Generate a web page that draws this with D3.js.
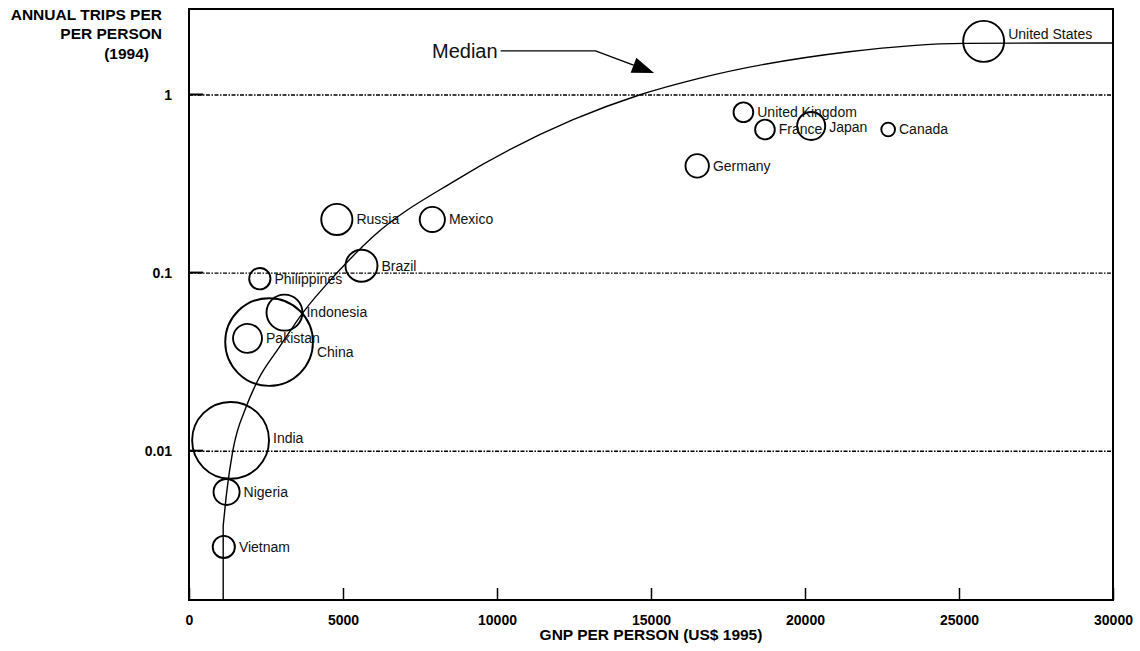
<!DOCTYPE html>
<html>
<head>
<meta charset="utf-8">
<script src="https://cdn.jsdelivr.net/npm/d3@7/dist/d3.min.js"></script>
<style>
  html, body { margin: 0; padding: 0; background: #fff; }
  svg { display: block; font-family: "Liberation Sans", Arial, Helvetica, sans-serif; }
</style>
</head>
<body>
<svg id="chart" width="1140" height="651"></svg>
<script>
// Countries: GNP per person (US$ 1995), annual trips per person (1994), population (millions)
const countries  = ["United States", "Canada", "Japan", "France", "United Kingdom", "Germany",
                    "Mexico", "Russia", "Brazil", "Philippines", "Indonesia", "China",
                    "Pakistan", "India", "Nigeria", "Vietnam"];
const gnp        = [25800, 22700, 20200, 18700, 18000, 16500, 7900, 4800, 5600, 2300, 3100, 2600,
                    1900, 1350, 1220, 1130];
const trips      = [2.0, 0.64, 0.67, 0.64, 0.8, 0.4, 0.2, 0.2, 0.11, 0.093, 0.06, 0.041,
                    0.043, 0.0115, 0.0059, 0.0029];
const population = [260, 29, 122, 60, 60, 85, 98, 150, 158, 70, 200, 1190, 130, 914, 105, 76];

// Median curve: vertical stub at the low-income end, then the smooth rise
const medianStubGnp   = [1110, 1110];
const medianStubTrips = [0.00146, 0.0038];
const medianGnp   = [1110, 1230, 1420, 1860, 2240, 2940, 3700, 4800, 5970, 8670,
                     12450, 14620, 16560, 21430, 25160, 30000];
const medianTrips = [0.0038, 0.0060, 0.0100, 0.0178, 0.0251, 0.0385, 0.060, 0.100, 0.160, 0.333,
                     0.724, 1.0, 1.24, 1.75, 1.95, 1.96];

// Axis ticks
const xTicks = [0, 5000, 10000, 15000, 20000, 25000, 30000];
const yTicks = [0.01, 0.1, 1];
const yTickLabels = ["0.01", "0.1", "1"];

// Annotation for the median curve (data coordinates)
const medianNoteText  = "Median";
const medianNoteGnp   = [10020, 13200, 15100];
const medianNoteTrips = [1.77, 1.77, 1.33];

// Small vertical nudges for labels that would collide with other marks
const labelNudge = { "China": 10, "United States": -7, "India": -2, "Japan": 1 };

const svg = d3.select("#chart");
const margin = { left: 189, top: 9, right: 27, bottom: 51 };
const W = 1140 - margin.left - margin.right;
const H = 651 - margin.top - margin.bottom;

const g = svg.append("g").attr("transform", `translate(${margin.left},${margin.top})`);

const x = d3.scaleLinear().domain([0, 30000]).range([0, W]);
const y = d3.scaleLog().domain([0.00146, 3.04]).range([H, 0]);
const r = d3.scaleSqrt().domain([0, 260]).range([0, 20.5]);

// Dash-dot gridlines at each decade
g.append("g").selectAll("line").data(yTicks).join("line")
  .attr("x1", 0).attr("x2", W)
  .attr("y1", d => y(d)).attr("y2", d => y(d))
  .attr("stroke", "#000").attr("stroke-width", 1.4)
  .attr("stroke-dasharray", "4,1.5,1.5,1.5");

// X axis with inward ticks
const xAxis = g.append("g").attr("transform", `translate(0,${H})`)
  .call(d3.axisBottom(x).tickValues(xTicks).tickSize(-12).tickSizeOuter(0).tickPadding(15)
        .tickFormat(d3.format("d")));
xAxis.select(".domain").remove();
xAxis.selectAll(".tick line").attr("stroke", "#000").attr("stroke-width", 1.5);
xAxis.selectAll(".tick text").attr("font-size", 14).attr("font-weight", "bold")
  .attr("fill", "#000").attr("font-family", "Liberation Sans, Arial, sans-serif");

// Y axis with short inward ticks
const yAxis = g.append("g")
  .call(d3.axisLeft(y).tickValues(yTicks).tickSize(-14).tickSizeOuter(0).tickPadding(17)
        .tickFormat((d, i) => yTickLabels[i]));
yAxis.select(".domain").remove();
yAxis.selectAll(".tick line").attr("stroke", "#000").attr("stroke-width", 2)
  .attr("transform", "translate(0,-1)");
yAxis.selectAll(".tick text").attr("font-size", 14).attr("font-weight", "bold")
  .attr("fill", "#000").attr("font-family", "Liberation Sans, Arial, sans-serif");

// Plot frame
g.append("rect").attr("x", 0).attr("y", 0).attr("width", W).attr("height", H)
  .attr("fill", "none").attr("stroke", "#000").attr("stroke-width", 2);

// Median curve
const stubPts = medianStubGnp.map((v, i) => [v, medianStubTrips[i]]);
const medianPts = medianGnp.map((v, i) => [v, medianTrips[i]]);
g.append("path")
  .attr("d", d3.line().x(d => x(d[0])).y(d => y(d[1]))(stubPts))
  .attr("fill", "none").attr("stroke", "#000").attr("stroke-width", 1.4);
g.append("path")
  .attr("d", d3.line().x(d => x(d[0])).y(d => y(d[1])).curve(d3.curveMonotoneX)(medianPts))
  .attr("fill", "none").attr("stroke", "#000").attr("stroke-width", 1.4);

// Country bubbles
const data = countries.map((c, i) => ({ name: c, gnp: gnp[i], trips: trips[i], pop: population[i] }));
g.append("g").selectAll("circle").data(data).join("circle")
  .attr("cx", d => x(d.gnp)).attr("cy", d => y(d.trips)).attr("r", d => r(d.pop))
  .attr("fill", "none").attr("stroke", "#000").attr("stroke-width", 1.9);

g.append("g").selectAll("text").data(data).join("text")
  .attr("x", d => x(d.gnp) + r(d.pop) + 4)
  .attr("y", d => y(d.trips) + (labelNudge[d.name] || 0))
  .attr("dy", "0.35em")
  .attr("font-size", 14).attr("fill", "#111")
  .text(d => d.name);

// Median annotation: label, leader line and arrowhead
const notePts = medianNoteGnp.map((v, i) => [x(v), y(medianNoteTrips[i])]);
g.append("text")
  .attr("x", notePts[0][0]).attr("y", notePts[0][1]).attr("dy", "0.35em")
  .attr("text-anchor", "end").attr("font-size", 20).attr("fill", "#111")
  .text(medianNoteText);
const tip = notePts[2], elbow = notePts[1];
const ang = Math.atan2(tip[1] - elbow[1], tip[0] - elbow[0]);
const headLen = 22, headHalf = 8;
const base = [tip[0] - headLen * Math.cos(ang), tip[1] - headLen * Math.sin(ang)];
g.append("polyline")
  .attr("points", [[notePts[0][0] + 3, notePts[0][1]], elbow, base].map(p => p.join(",")).join(" "))
  .attr("fill", "none").attr("stroke", "#000").attr("stroke-width", 1.4);
g.append("polygon")
  .attr("points", [
    tip,
    [base[0] + headHalf * Math.sin(ang), base[1] - headHalf * Math.cos(ang)],
    [base[0] - headHalf * Math.sin(ang), base[1] + headHalf * Math.cos(ang)]
  ].map(p => p.join(",")).join(" "))
  .attr("fill", "#000");

// Axis titles
svg.append("text").attr("x", 651).attr("y", 640).attr("text-anchor", "middle")
  .attr("font-size", 15.5).attr("font-weight", "bold").attr("fill", "#000")
  .text("GNP PER PERSON (US$ 1995)");
const yTitle = svg.append("text").attr("text-anchor", "end")
  .attr("font-size", 15.5).attr("font-weight", "bold").attr("fill", "#000");
yTitle.append("tspan").attr("x", 162).attr("y", 20).text("ANNUAL TRIPS PER");
yTitle.append("tspan").attr("x", 162).attr("y", 38.5).text("PER PERSON");
yTitle.append("tspan").attr("x", 149).attr("y", 59).text("(1994)");
</script>
</body>
</html>
